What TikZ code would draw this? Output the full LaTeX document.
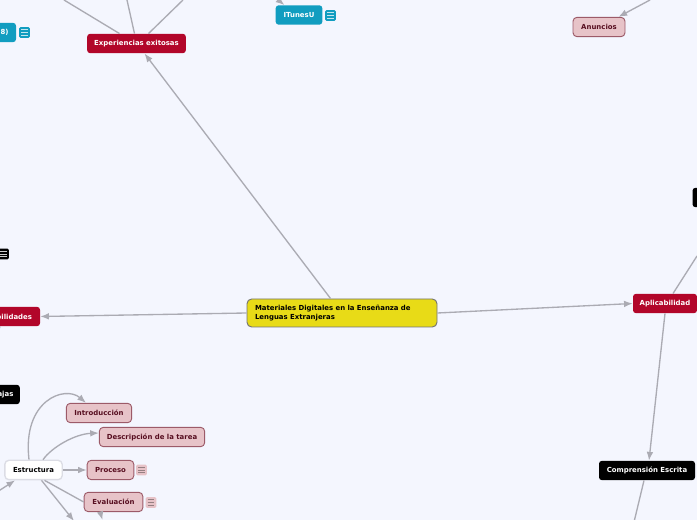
\documentclass[tikz,border=0pt]{standalone}
\usepackage{fontspec}
\setmainfont{DejaVu Sans}
\usetikzlibrary{arrows.meta,positioning,calc}
\definecolor{Paper}{HTML}{F4F6FE}
\definecolor{Wire}{HTML}{ABABB3}
\definecolor{Crimson}{HTML}{B2062A}
\definecolor{Cyan}{HTML}{119DC0}
\definecolor{Rose}{HTML}{E7C3C8}
\definecolor{RoseLine}{HTML}{9C5A68}
\definecolor{RoseText}{HTML}{570E20}
\definecolor{Lemon}{HTML}{E8DB17}
\tikzset{
  arr/.style={-{Latex[length=6.5pt,width=5pt]},line width=1pt,draw=Wire},
  wire/.style={line width=1pt,draw=Wire},
  topic/.style={rounded corners=2.2pt,font=\fontsize{5.2}{6.4}\selectfont\bfseries,inner sep=0pt,minimum height=14.5pt},
  redbox/.style={topic,fill=Crimson,text=white},
  darkbox/.style={topic,fill=black,text=white},
  cyanbox/.style={topic,fill=Cyan,text=white},
  rosebox/.style={topic,rounded corners=3pt,fill=Rose,draw=RoseLine,line width=.7pt,text=RoseText},
  whitebox/.style={topic,rounded corners=3pt,fill=white,draw=Paper!90!black,line width=1pt,text=black},
  mainbox/.style={topic,rounded corners=3.5pt,fill=Lemon,draw=black!55,line width=.7pt,text=black,minimum height=21pt,align=left,text width=130.5pt,minimum width=142.5pt},
  noteicon/.style={rounded corners=1pt,minimum width=8pt,minimum height=8pt,inner sep=0pt}
}
\newcommand{\noteat}[4]{%
  \node[noteicon,fill=#2] (#1) at (#4) {};
  \foreach \dy in {-2,0,2}
    \draw[line width=.5pt,draw=#3] ($(#1)+(-2.5pt,\dy pt)$) -- ($(#1)+(2.5pt,\dy pt)$);
}
\begin{document}
\begin{tikzpicture}[x=.75pt,y=-.75pt]
  \useasboundingbox (0,0) rectangle (697,520);
  \clip (0,0) rectangle (697,520);
  \fill[Paper] (0,0) rectangle (697,520);
  % free ends off the page
  \coordinate (expa) at (64,0);
  \coordinate (expb) at (127,0);
  \coordinate (expc) at (183,0);
  \coordinate (itun) at (277,-1);
  \coordinate (anun) at (650,0);
  \coordinate (aplup) at (697,256);
  \coordinate (compdn) at (634.5,520);
  \coordinate (estin) at (-3,492);
  \coordinate (estdn) at (74,521);
  \coordinate (habdn) at (-2,332);
  \coordinate (evaldn) at (102.5,520);
  % main topics
  \node[mainbox] (main) at (342,313) {Materiales Digitales en la Enseñanza de Lenguas Extranjeras};
  \node[redbox,minimum width=74pt] (exp) at (136.5,43.5) {Experiencias exitosas};
  \node[redbox,minimum width=46.5pt] (hab) at (9,316.5) {Habilidades};
  \node[redbox,minimum width=48pt] (apl) at (665,303.5) {Aplicabilidad};
  \node[darkbox,minimum width=72pt] (comp) at (647,470.5) {Comprensión Escrita};
  \node[darkbox,minimum width=35pt] (ven) at (-3.5,394.5) {Ventajas};
  \node[darkbox,minimum width=30pt] (blk) at (712.5,197.5) {};
  \node[cyanbox,minimum width=27pt,align=right,text width=16pt] (num) at (-2,32.5) {8)};
  \node[cyanbox,minimum width=35pt] (itu) at (299,15) {ITunesU};
  \node[rosebox,minimum width=39pt] (anu) at (599,27) {Anuncios};
  % Estructura
  \node[whitebox,minimum width=43pt] (est) at (33.5,470) {Estructura};
  \node[rosebox,minimum width=49pt] (intro) at (99,413) {Introducción};
  \node[rosebox,minimum width=79pt] (desc) at (152,437) {Descripción de la tarea};
  \node[rosebox,minimum width=35pt] (proc) at (110.5,470) {Proceso};
  \node[rosebox,minimum width=44pt] (eval) at (113.5,502) {Evaluación};
  % connectors
  \draw[arr] ($(main.north west)+(84,0)$) -- ($(exp.south)+(8,0)$);
  \draw[arr] (main.west) -- (hab.east);
  \draw[arr] (main.east) -- (apl.west);
  \draw[wire] ($(exp.north)+(-17,0)$) -- (expa);
  \draw[wire] ($(exp.north)+(-2,0)$) -- (expb);
  \draw[wire] ($(exp.north)+(12,0)$) -- (expc);
  \draw[arr] (itun) -- ($(itu.north west)+(9,0)$);
  \draw[arr] (anun) -- ($(anu.north east)+(-7,0)$);
  \draw[wire] ($(apl.north)+(8,0)$) -- (aplup);
  \draw[arr] (apl.south) -- ($(comp.north)+(2,0)$);
  \draw[wire] ($(comp.south)+(-3,0)$) -- (compdn);
  \draw[wire] ($(hab.south)+(-9,0)$) -- (habdn);
  \draw[arr] (estin) -- ($(est.south west)+(11,0)$);
  \draw[arr] ($(est.north)+(-4.5,0)$) .. controls (22,400) and (65,385) .. ($(intro.north)+(-13,0)$);
  \draw[arr] ($(est.north)+(9.5,0)$) .. controls (52,447) and (75,434) .. ($(desc.west)+(0,-4)$);
  \draw[arr] (est.east) -- (proc.west);
  \draw[wire] ($(est.south)+(11,0)$) -- (eval.west);
  \draw[arr] ($(est.south)+(8,0)$) -- (estdn);
  \draw[arr] ($(eval.south)+(-13,1)$) -- (evaldn);
  % note icons
  \noteat{nnum}{Cyan}{white!75!Cyan}{24.5,32.5}
  \noteat{nitu}{Cyan}{white!75!Cyan}{330.5,15.5}
  \noteat{nblk}{black}{white!80!black}{3.5,254}
  \noteat{nproc}{Rose}{black!35!Rose}{141.5,470}
  \noteat{neval}{Rose}{black!35!Rose}{151,502.5}
\end{tikzpicture}
\end{document}
